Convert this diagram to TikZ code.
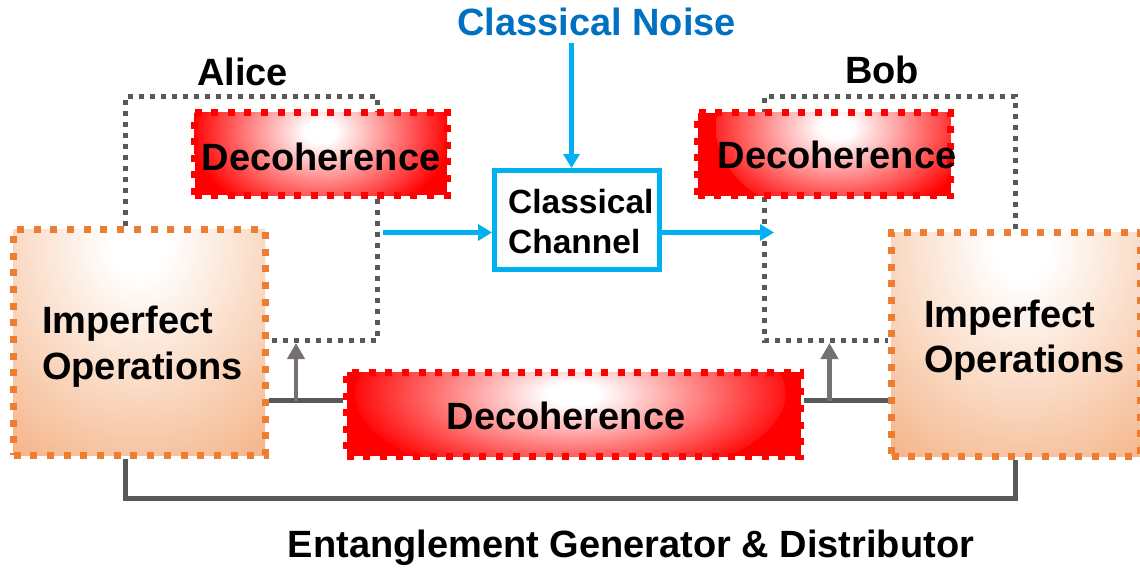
\documentclass[tikz,border=0pt]{standalone}
\usepackage{fontspec}
\setmainfont{Liberation Sans}
\usetikzlibrary{arrows.meta,calc}
\definecolor{lblue}{HTML}{00B0F0}
\definecolor{nblue}{HTML}{0070C0}
\definecolor{dgray}{HTML}{595959}
\definecolor{agray}{HTML}{767171}
\definecolor{peach}{HTML}{F4B183}
\definecolor{orng}{HTML}{ED7D31}
\pgfdeclareradialshading{redglow}{\pgfpointorigin}{color(0bp)=(white); color(3bp)=(white); color(14bp)=(red!50!white); color(25bp)=(red); color(50bp)=(red)}
\pgfdeclareradialshading{peachglow}{\pgfpointorigin}{color(0bp)=(white); color(3bp)=(white); color(25bp)=(peach); color(50bp)=(peach)}
\begin{document}
\begin{tikzpicture}[x=1pt,y=-1pt,
  lbl/.style={inner sep=0pt, font=\bfseries\fontsize{38}{46}\selectfont, anchor=base},
  lbll/.style={lbl, anchor=base west},
  chl/.style={inner sep=0pt, font=\bfseries\fontsize{33.5}{40}\selectfont, anchor=base west},
  dotloop/.style={draw=dgray, line width=5pt, dash pattern=on 5pt off 6pt},
  solidgray/.style={draw=dgray, line width=5pt},
  uparrow/.style={draw=agray, line width=4.5pt, -{Triangle[width=17pt,length=16pt]}},
  bluearrow/.style={draw=lblue, line width=5pt, -{Triangle[width=16pt,length=14pt]}},
  rglow/.style n args={4}{path picture={\shade[shading=redglow] ($(path picture bounding box.center)+(#1pt,#2pt)$) ellipse [x radius=#3pt, y radius=#4pt];}},
  pglow/.style n args={4}{path picture={\shade[shading=peachglow] ($(path picture bounding box.center)+(#1pt,#2pt)$) ellipse [x radius=#3pt, y radius=#4pt];}},
  decoh/.style={rectangle, inner sep=0pt, draw=red, fill=red, line width=7pt, dash pattern=on 7pt off 9.6pt},
  imper/.style={rectangle, inner sep=0pt, draw=orng, fill=peach, line width=7pt, dash pattern=on 7pt off 9.7pt},
  chanbox/.style={rectangle, inner sep=0pt, draw=lblue, fill=white, line width=5pt}
]
\useasboundingbox (0,0) rectangle (1140,568);

% coordinates
\coordinate (al1) at (125.5,96);
\coordinate (al2) at (377,96);
\coordinate (al3) at (377,340);
\coordinate (bo1) at (764.5,96);
\coordinate (bo2) at (1015,96);
\coordinate (bo3) at (764.5,340);

% imperfect operation boxes
\path (139.25,342.25) node[imper, pglow={0}{100}{230}{270}, minimum width=251.5pt, minimum height=225.5pt] (impL) {};
\path (1015.75,344.25) node[imper, pglow={6}{98}{230}{270}, minimum width=248.5pt, minimum height=223.5pt] (impR) {};

% dotted loops
\draw[dotloop] (al1 |- impL.north) -- (al1) -- (al2) -- (al3) -- (al3 -| impL.east);
\draw[dotloop] (bo2 |- impR.north) -- (bo2) -- (bo1) -- (bo3) -- (bo3 -| impR.west);

% decoherence boxes
\path (320.75,153.5) node[decoh, rglow={0}{22}{130}{92}, minimum width=252.5pt, minimum height=83pt] (decA) {};
\path (824,154) node[decoh, rglow={22}{26}{130}{92}, minimum width=253pt, minimum height=83pt] (decB) {};
\path (573.5,414) node[decoh, rglow={-3}{20}{215}{92}, minimum width=454pt, minimum height=84pt] (decC) {};

% channel
\path (576.75,220) node[chanbox, minimum width=164.5pt, minimum height=99pt] (chan) {};

% gray solid lines and arrows
\coordinate (gl) at (296,400.5);
\coordinate (gr) at (829.5,400.5);
\coordinate (tl) at (296,343);
\coordinate (tr) at (829.5,343);
\draw[solidgray] (gl -| impL.east) -- (gl -| decC.west);
\draw[solidgray] (gr -| decC.east) -- (gr -| impR.west);
\draw[uparrow] (gl) -- (tl);
\draw[uparrow] (gr) -- (tr);

\coordinate (bl) at (125.5,498.5);
\coordinate (br) at (1015,498.5);
\draw[solidgray] (bl |- impL.south) -- (bl) -- (br) -- (br |- impR.south);

% blue arrows
\coordinate (n1) at (571.5,43);
\coordinate (a1) at (383,232.5);
\coordinate (b1) at (774,232.5);
\draw[bluearrow] (n1) -- (n1 |- chan.north);
\draw[bluearrow] (a1) -- (a1 -| chan.west);
\draw[bluearrow] (a1 -| chan.east) -- (b1);

% texts
\node[lbl, text=nblue] (noise) at (596.5,35) {Classical Noise};
\node[lbl] (alice) at (242.5,85) {Alice};
\node[lbl] (bob) at (882,83) {Bob};
\node[lbl] (tDA) at (321,170) {Decoherence};
\node[lbl] (tDB) at (837,168) {Decoherence};
\node[lbl] (tDC) at (566,429) {Decoherence};
\node[chl] (tC1) at (508,213) {Classical};
\node[chl] (tC2) at (508,253) {Channel};
\node[lbll] (tIL1) at (42,333) {Imperfect};
\node[lbll] (tIL2) at (42,379) {Operations};
\node[lbll] (tIR1) at (924,327) {Imperfect};
\node[lbll] (tIR2) at (924,372) {Operations};
\node[lbl] (ent) at (631,557) {Entanglement Generator \& Distributor};
\end{tikzpicture}
\end{document}
